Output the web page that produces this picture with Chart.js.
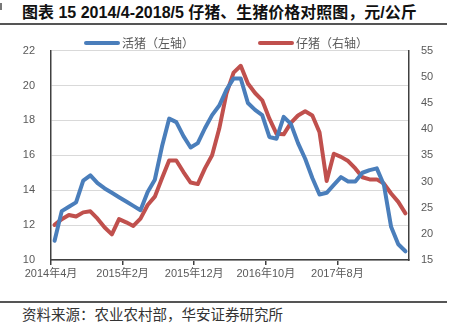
<!DOCTYPE html>
<html>
<head>
<meta charset="utf-8">
<script src="https://cdn.jsdelivr.net/npm/chart.js@4/dist/chart.umd.min.js"></script>
<style>
  html, body { margin: 0; padding: 0; background: #fff; }
  body { width: 459px; height: 323px; position: relative; overflow: hidden;
         font-family: 'Liberation Sans', 'Noto Sans CJK SC', sans-serif; }
  #mark { position: absolute; left: 0; top: 3px; width: 2px; height: 7px; background: #777; }
  #title { position: absolute; left: 22px; top: 3px; font-size: 16px; font-weight: bold;
           line-height: 20px; color: #111; white-space: nowrap; }
  .rule { position: absolute; left: 0; width: 447px; height: 2px; background: #555; }
  #note { position: absolute; left: 22px; top: 305px; font-size: 14.5px; line-height: 18px;
          color: #333; white-space: nowrap; font-family: 'Noto Sans CJK SC', sans-serif; }
  #wrap { position: absolute; left: 0; top: 28px; width: 459px; height: 272px; }
</style>
</head>
<body>
<div id="mark"></div>
<div id="title">图表 15 2014/4-2018/5 仔猪、生猪价格对照图，元/公斤</div>
<div class="rule" style="top:23px"></div>
<div id="wrap"><canvas id="priceChart"></canvas></div>
<div class="rule" style="top:301px"></div>
<div id="note">资料来源：农业农村部，华安证券研究所</div>

<script>
// monthly categories, 2014/4 - 2018/5
const months = [
    '2014年4月', '2014年5月', '2014年6月', '2014年7月', '2014年8月', '2014年9月',
    '2014年10月', '2014年11月', '2014年12月', '2015年1月', '2015年2月', '2015年3月',
    '2015年4月', '2015年5月', '2015年6月', '2015年7月', '2015年8月', '2015年9月',
    '2015年10月', '2015年11月', '2015年12月', '2016年1月', '2016年2月', '2016年3月',
    '2016年4月', '2016年5月', '2016年6月', '2016年7月', '2016年8月', '2016年9月',
    '2016年10月', '2016年11月', '2016年12月', '2017年1月', '2017年2月', '2017年3月',
    '2017年4月', '2017年5月', '2017年6月', '2017年7月', '2017年8月', '2017年9月',
    '2017年10月', '2017年11月', '2017年12月', '2018年1月', '2018年2月', '2018年3月',
    '2018年4月', '2018年5月'
];

// 活猪 price, left axis (元/公斤)
const livePig = [
    11.1, 12.8, 13.05, 13.3, 14.55, 14.85, 14.4, 14.1, 13.85, 13.6,
    13.35, 13.1, 12.85, 13.9, 14.6, 16.5, 18.1, 17.9, 17.1, 16.45,
    16.7, 17.55, 18.3, 18.85, 19.75, 20.4, 20.4, 19.0, 18.6, 18.3,
    17.05, 16.95, 18.2, 17.8, 16.7, 15.8, 14.7, 13.75, 13.85, 14.3,
    14.75, 14.5, 14.5, 15.0, 15.15, 15.25, 14.3, 11.9, 10.9, 10.5
];

// 仔猪 price, right axis (元/公斤)
const piglet = [
    21.7, 22.8, 23.6, 23.3, 24.1, 24.3, 22.9, 21.2, 19.9, 22.8,
    22.2, 21.5, 22.9, 25.5, 27.1, 30.6, 34.0, 34.0, 31.8, 29.8,
    29.5, 32.5, 35.0, 40.1, 46.8, 50.8, 52.1, 48.7, 46.9, 45.5,
    42.0, 39.1, 39.0, 41.2, 42.6, 43.4, 42.6, 39.4, 30.1, 35.3,
    34.7, 33.9, 32.5, 30.8, 30.4, 30.4, 29.6, 27.7, 26.1, 23.9
];

const liveTicks = { min: 10, max: 22, step: 2 };
const pigletTicks = { min: 15, max: 55, step: 5 };

const blue = '#4a7ebb';
const red = '#c0504d';
const axisColor = '#404040';
const labelColor = '#595959';

Chart.defaults.font.family = "'Liberation Sans', 'Noto Sans CJK SC', sans-serif";
Chart.defaults.font.size = 11;
Chart.defaults.color = labelColor;

// legend drawn above the plot: line sample followed by the series name
const lineLegend = {
    id: 'lineLegend',
    afterDraw(chart, args, opts) {
        const ctx = chart.ctx;
        ctx.save();
        chart.data.datasets.forEach(function(ds, i) {
            const pos = opts.items[i];
            ctx.strokeStyle = ds.borderColor;
            ctx.lineWidth = 4;
            ctx.lineCap = 'round';
            ctx.beginPath();
            ctx.moveTo(pos.x, opts.y);
            ctx.lineTo(pos.x + 32, opts.y);
            ctx.stroke();
            ctx.fillStyle = labelColor;
            ctx.font = "12px 'Noto Sans CJK SC', sans-serif";
            ctx.textBaseline = 'middle';
            ctx.textAlign = 'left';
            ctx.fillText(ds.label, pos.x + 36, opts.y);
        });
        ctx.restore();
    }
};

const priceCtx = document.getElementById('priceChart');
new Chart(priceCtx, {
    type: 'line',
    data: {
        labels: months,
        datasets: [{
            label: '活猪（左轴）',
            data: livePig,
            yAxisID: 'yLeft',
            borderColor: blue,
            backgroundColor: blue,
            borderWidth: 4,
            pointRadius: 0,
            tension: 0,
            borderJoinStyle: 'round',
            borderCapStyle: 'round'
        },
        {
            label: '仔猪（右轴）',
            data: piglet,
            yAxisID: 'yRight',
            borderColor: red,
            backgroundColor: red,
            borderWidth: 4,
            pointRadius: 0,
            tension: 0,
            borderJoinStyle: 'round',
            borderCapStyle: 'round'
        }]
    },
    options: {
        responsive: true,
        maintainAspectRatio: false,
        animation: false,
        layout: { padding: { top: 22, left: 0, right: 0, bottom: 0 } },
        plugins: {
            legend: { display: false },
            tooltip: { enabled: false },
            lineLegend: {
                y: 15,
                items: [{ x: 86 }, { x: 260 }]
            }
        },
        scales: {
            x: {
                type: 'category',
                offset: true,
                afterFit: function(scale) { scale.height = 40; },
                grid: {
                    offset: true,
                    drawOnChartArea: false,
                    tickLength: 5,
                    color: function(c) { return c.index % 10 === 0 ? axisColor : 'rgba(0,0,0,0)'; },
                    tickColor: function(c) { return c.index % 10 === 0 ? axisColor : 'rgba(0,0,0,0)'; },
                    lineWidth: 1.5
                },
                border: { color: axisColor, width: 1.5 },
                ticks: {
                    autoSkip: false,
                    maxRotation: 0,
                    padding: 2,
                    labelOffset: -3.6,
                    callback: function(val, i) { return i % 10 === 0 ? months[i] : ''; }
                }
            },
            yLeft: {
                position: 'left',
                min: liveTicks.min,
                max: liveTicks.max,
                afterFit: function(scale) { scale.width = 51; },
                grid: { color: '#d9d9d9', lineWidth: 1, drawTicks: false },
                border: { color: axisColor, width: 1.5 },
                ticks: { stepSize: liveTicks.step, padding: 16 }
            },
            yRight: {
                position: 'right',
                min: pigletTicks.min,
                max: pigletTicks.max,
                afterFit: function(scale) { scale.width = 50; },
                grid: { display: false, drawTicks: false },
                border: { color: axisColor, width: 1.5 },
                ticks: { stepSize: pigletTicks.step, padding: 12 }
            }
        }
    },
    plugins: [lineLegend]
});
</script>
</body>
</html>
